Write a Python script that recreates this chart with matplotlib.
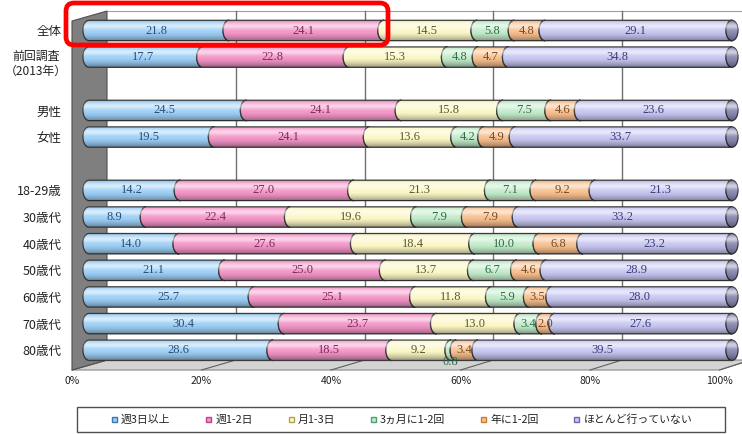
import numpy as np
import matplotlib
matplotlib.use('Agg')
import matplotlib.pyplot as plt
from matplotlib.patches import Polygon, Ellipse, FancyBboxPatch, PathPatch, Rectangle
from matplotlib.path import Path
from matplotlib.lines import Line2D

plt.rcParams['font.family'] = ['Noto Sans CJK JP', 'DejaVu Sans']

# ---------------- data ----------------
categories = ['全体', '前回調査\n（2013年）', '男性', '女性', '18-29歳', '30歳代',
              '40歳代', '50歳代', '60歳代', '70歳代', '80歳代']
series_names = ['週3日以上', '週1-2日', '月1-3日', '3ヵ月に1-2回', '年に1-2回', 'ほとんど行っていない']
s_week3 = [21.8, 17.7, 24.5, 19.5, 14.2, 8.9, 14.0, 21.1, 25.7, 30.4, 28.6]
s_week12 = [24.1, 22.8, 24.1, 24.1, 27.0, 22.4, 27.6, 25.0, 25.1, 23.7, 18.5]
s_month13 = [14.5, 15.3, 15.8, 13.6, 21.3, 19.6, 18.4, 13.7, 11.8, 13.0, 9.2]
s_3month = [5.8, 4.8, 7.5, 4.2, 7.1, 7.9, 10.0, 6.7, 5.9, 3.4, 0.8]
s_year = [4.8, 4.7, 4.6, 4.9, 9.2, 7.9, 6.8, 4.6, 3.5, 2.0, 3.4]
s_none = [29.1, 34.8, 23.6, 33.7, 21.3, 33.2, 23.2, 28.9, 28.0, 27.6, 39.5]
x_tick_values = [0, 20, 40, 60, 80, 100]
x_tick_labels = ['0%', '20%', '40%', '60%', '80%', '100%']

series = [s_week3, s_week12, s_month13, s_3month, s_year, s_none]

# ---------------- style / layout ----------------
fills = ['#9fd0f6', '#f497c9', '#fcf7c6', '#c3ecca', '#f8c08f', '#c7c7f1']
label_cols = ['#2a4d7c', '#7d2a5c', '#5a5a2c', '#2e6b4a', '#7a4a22', '#3c3c7a']
legend_edge = ['#3f74b5', '#c2408a', '#b2a24e', '#4fa070', '#d07a30', '#6a6ab2']
cap_col = '#8a8ab4'
edge_col = '#3a3a3a'

slots = [0, 1, 3, 4, 6, 7, 8, 9, 10, 11, 12]     # vertical slot of each category

W, Hpx = 742, 434
AX_L, AX_R, AX_T, AX_B = 72, 742, 0, 372
BAR_X0, PX_PCT = 89.0, 6.43          # bar 0% position (px) and px per percent
ROW0, PX_SLOT = 30.5, 26.65          # first row centre (px) and px per slot

def dx(px):
    return (px - BAR_X0) / PX_PCT

def dy(py):
    return (py - ROW0) / PX_SLOT

def front_px(v):
    return 72 + 6.475 * v

def back_px(v):
    return 107 + 6.4375 * v

FLOOR_FRONT, FLOOR_BACK = 370, 360
WALL_TOP_FRONT, WALL_TOP_BACK = 21, 11

fig = plt.figure(figsize=(W / 100, Hpx / 100), dpi=100, facecolor='white')
ax = fig.add_axes([AX_L / W, 1 - AX_B / Hpx, (AX_R - AX_L) / W, (AX_B - AX_T) / Hpx])
ax.patch.set_visible(False)
for sp in ax.spines.values():
    sp.set_visible(False)

# ---------------- 3D frame ----------------
ax.add_line(Line2D([dx(back_px(0)), dx(AX_R)], [dy(WALL_TOP_BACK)] * 2,
                   color='#a0a0a0', lw=0.8, zorder=0.5, clip_on=False))
for t in x_tick_values[1:]:
    ax.add_line(Line2D([dx(back_px(t))] * 2, [dy(WALL_TOP_BACK), dy(FLOOR_BACK)],
                       color='#707070', lw=1.0, zorder=0.6, clip_on=False))
floor = Polygon([(dx(front_px(0)), dy(FLOOR_FRONT)), (dx(back_px(0)), dy(FLOOR_BACK)),
                 (dx(back_px(100)), dy(FLOOR_BACK)), (dx(front_px(100)), dy(FLOOR_FRONT))],
                closed=True, fc='#d3d3d3', ec='#8a8a8a', lw=0.8, zorder=0.7, clip_on=False)
ax.add_patch(floor)
for t in x_tick_values:
    ax.add_line(Line2D([dx(front_px(t)), dx(back_px(t))], [dy(FLOOR_FRONT), dy(FLOOR_BACK)],
                       color='#606060', lw=0.8, zorder=0.8, clip_on=False))
wall = Polygon([(dx(front_px(0)), dy(WALL_TOP_FRONT)), (dx(back_px(0)), dy(WALL_TOP_BACK)),
                (dx(back_px(0)), dy(FLOOR_BACK)), (dx(front_px(0)), dy(FLOOR_FRONT))],
               closed=True, fc='#7f7f7f', ec='#505050', lw=0.8, zorder=0.9, clip_on=False)
ax.add_patch(wall)

# ---------------- cylinders ----------------
A = 6.0 / PX_PCT        # horizontal bulge of the cylinder section (x units)
HH = 10.2 / PX_SLOT     # half bar height (y units)
tt = np.linspace(-np.pi / 2, np.pi / 2, 40)

n = 80
prof = np.linspace(0, 1, n)
hi_alpha = 0.6 * np.exp(-((prof - 0.28) / 0.16) ** 2)
sh_alpha = 0.38 * np.clip((prof - 0.55) / 0.45, 0, 1) ** 1.6 + 0.12 * np.clip((0.12 - prof) / 0.12, 0, 1)
hi_img = np.zeros((n, 2, 4)); hi_img[..., :3] = 1.0; hi_img[..., 3] = hi_alpha[:, None]
sh_img = np.zeros((n, 2, 4)); sh_img[..., 3] = sh_alpha[:, None]

data = np.array(series)          # (6, 11)
for i, yc in enumerate(slots):
    vals = data[:, i]
    vals = vals / vals.sum() * 100.0
    left = 0.0
    for j, v in enumerate(vals):
        right = left + v
        la = np.column_stack([left - A * np.cos(tt), yc + HH * np.sin(tt)])
        ra = np.column_stack([right - A * np.cos(tt[::-1]), yc + HH * np.sin(tt[::-1])])
        ax.add_patch(Polygon(np.vstack([la, ra]), closed=True, fc=fills[j], ec=edge_col,
                             lw=0.9, zorder=2, joinstyle='round'))
        lx = left + v / 2 - A * 0.5
        ly = yc
        if v < 1.0:
            ly = yc + 12.0 / PX_SLOT
        ax.text(lx, ly, f'{data[j, i]:.1f}', ha='center', va='center', fontsize=9,
                family=['Liberation Serif', 'DejaVu Serif'], color=label_cols[j], zorder=6)
        left = right
    cap = Ellipse((100, yc), 2 * A, 2 * HH, fc=cap_col, ec=edge_col, lw=0.9, zorder=3)
    ax.add_patch(cap)
    la0 = np.column_stack([0 - A * np.cos(tt), yc + HH * np.sin(tt)])
    rc = np.column_stack([100 + A * np.cos(tt[::-1]), yc + HH * np.sin(tt[::-1])])
    outline = np.vstack([la0, rc, la0[:1]])
    clip = PathPatch(Path(outline, closed=True), transform=ax.transData, fc='none', ec='none')
    ax.add_patch(clip)
    for img in (hi_img, sh_img):
        im = ax.imshow(img, extent=(-A, 100 + A, yc + HH, yc - HH), origin='upper',
                       aspect='auto', interpolation='bilinear', zorder=4)
        im.set_clip_path(clip)

# ---------------- axes / ticks ----------------
ax.set_xlim(dx(AX_L), dx(AX_R))
ax.set_ylim(dy(AX_B), dy(AX_T))
ax.set_xticks([dx(front_px(t)) for t in x_tick_values])
ax.set_xticklabels(x_tick_labels, fontsize=7.5, color='#222222')
ylabels = [c if '\n' not in c else '' for c in categories]
ax.set_yticks(slots)
ax.set_yticklabels(ylabels, fontsize=9, color='#222222')
ax.tick_params(axis='both', length=0)
ax.tick_params(axis='y', pad=7.5)
ax.tick_params(axis='x', pad=3)
for c, s in zip(categories, slots):
    if '\n' in c:
        ax.text((36 - AX_L) / (AX_R - AX_L), dy(ROW0 + PX_SLOT * s + 6.5), c,
                transform=ax.get_yaxis_transform(), ha='center', va='center',
                multialignment='center', fontsize=8.6, color='#222222', linespacing=1.2)

# ---------------- legend ----------------
fig.add_artist(Rectangle((77 / W, (Hpx - 432) / Hpx), (725 - 77) / W, 25 / Hpx,
                         transform=fig.transFigure, fc='white', ec='#505050', lw=1.0))
handles = [Line2D([], [], ls='none', marker='s', markersize=3.6, markerfacecolor=fills[k],
                  markeredgecolor=legend_edge[k], markeredgewidth=1.0) for k in range(6)]
leg = fig.legend(handles, series_names, loc='center left', ncol=6, mode='expand',
                 bbox_to_anchor=(110 / W, (Hpx - 432) / Hpx, (692 - 110) / W, 25 / Hpx),
                 fontsize=7.8, frameon=False, handlelength=0.7,
                 handletextpad=0.3, borderpad=0.0, borderaxespad=0, columnspacing=1.0)
for t in leg.get_texts():
    t.set_color('#222222')

# ---------------- red highlight box ----------------
r_px = 8.0
box = FancyBboxPatch((dx(66), dy(3)), dx(388) - dx(66), dy(45) - dy(3),
                     boxstyle=f'round,pad=0,rounding_size={r_px / PX_PCT}',
                     mutation_aspect=PX_PCT / PX_SLOT, fc='none', ec='#ff0000', lw=3.4,
                     zorder=10, clip_on=False)
ax.add_patch(box)

fig.savefig('out.png', dpi=100, facecolor='white')
